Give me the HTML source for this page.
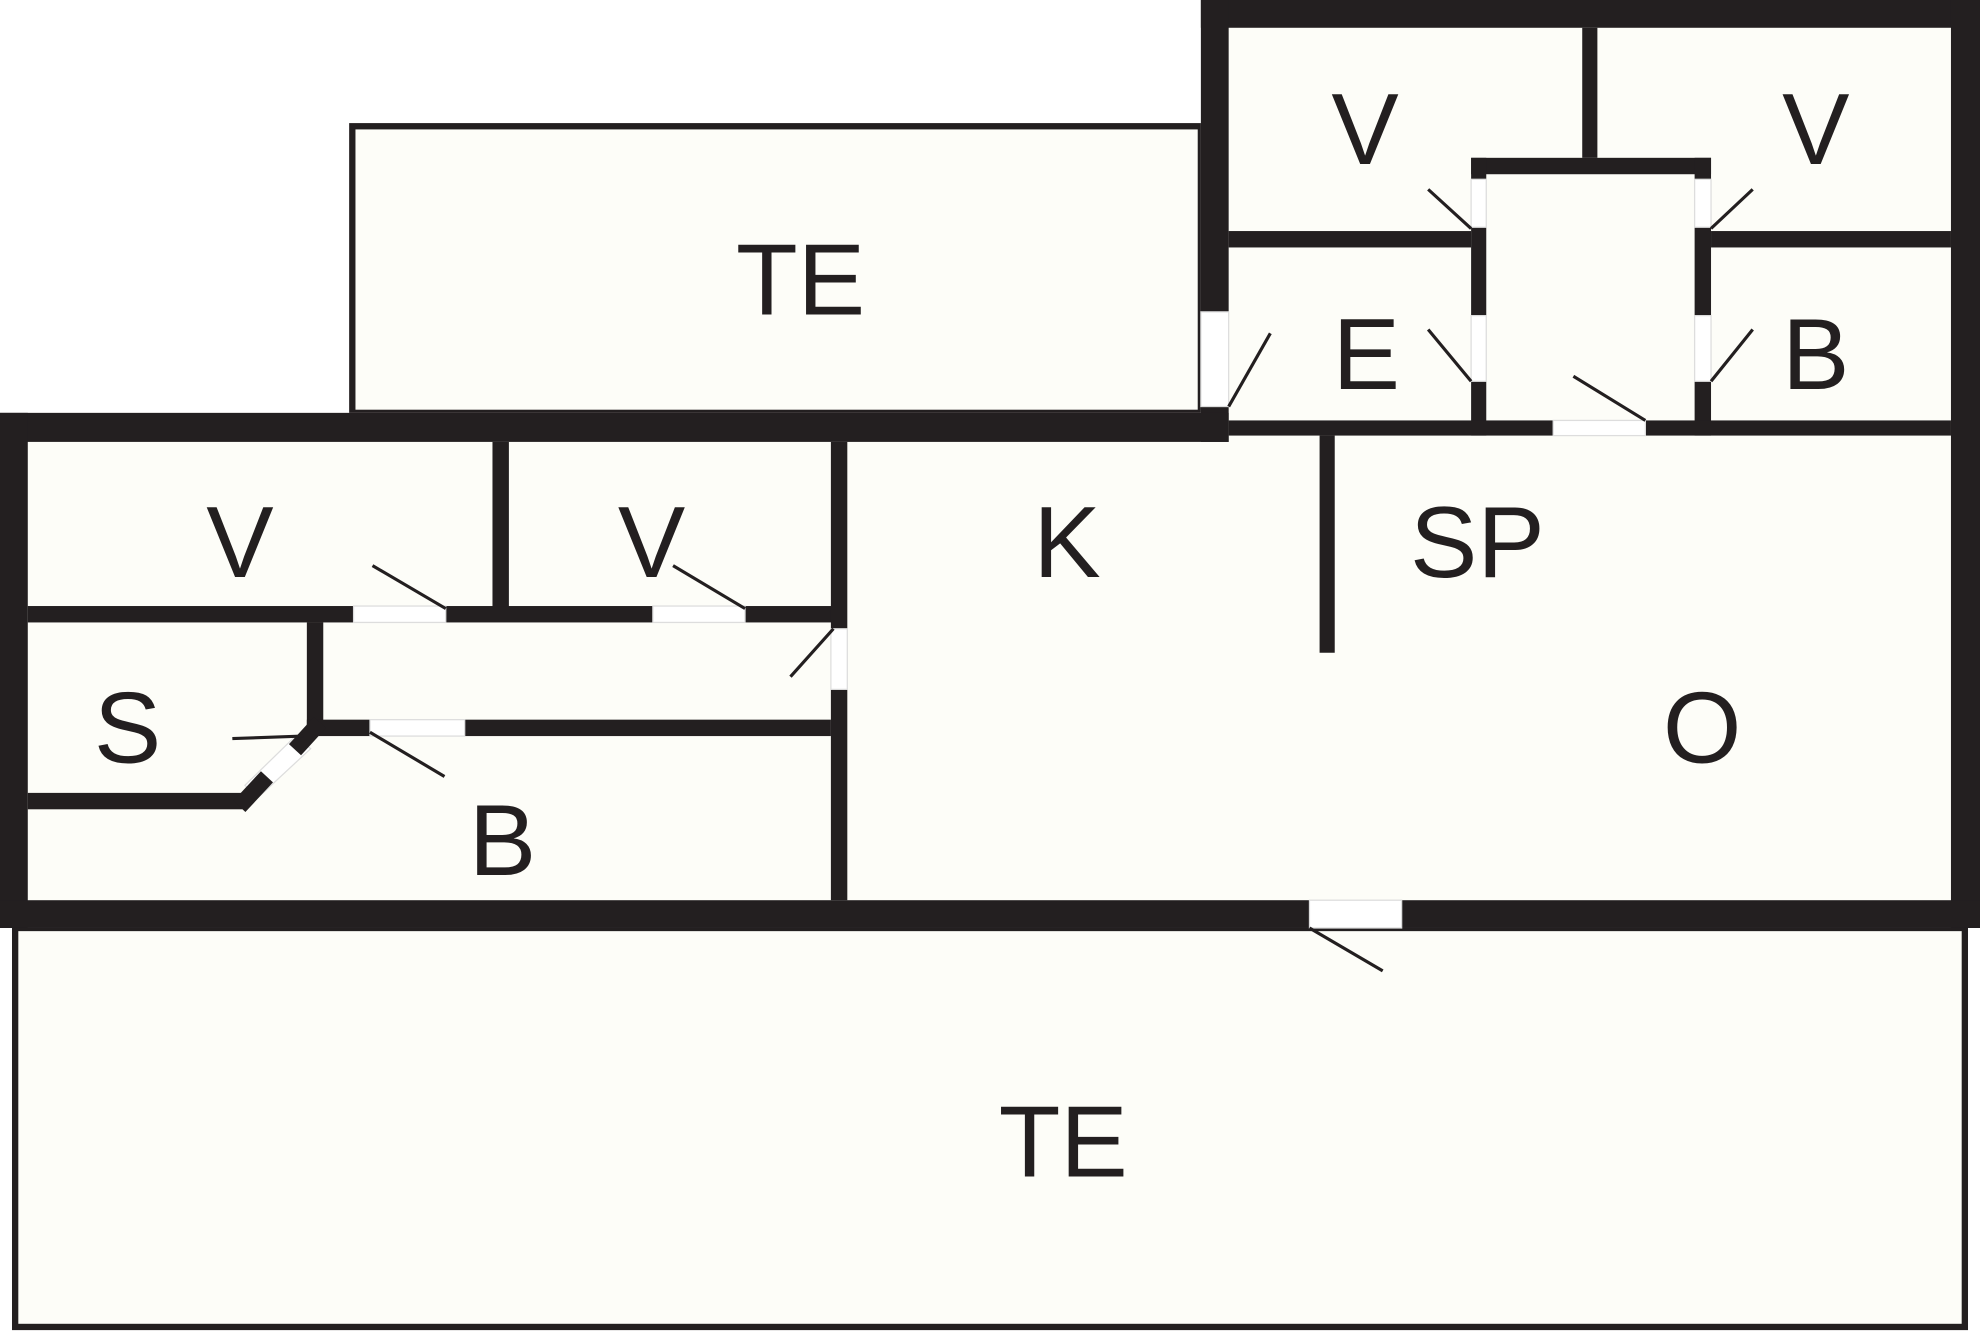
<!DOCTYPE html>
<html><head><meta charset="utf-8"><style>
html,body{margin:0;padding:0;background:#fff;}
svg{display:block;}
text{font-family:"Liberation Sans",sans-serif;font-size:80px;fill:#231f20;text-anchor:middle;}
</style></head><body>
<svg width="1980" height="1332" viewBox="0 0 1568 1055" preserveAspectRatio="none" xmlns="http://www.w3.org/2000/svg">
<rect width="1568" height="1055" fill="#fff"/>
<!-- floors -->
<rect x="279" y="100" width="672" height="227" fill="#fdfdf8" stroke="#231f20" stroke-width="5"/>
<rect x="12" y="735" width="1544" height="316" fill="#fdfdf8" stroke="#231f20" stroke-width="5"/>
<rect x="0" y="327" width="973" height="408" fill="#fdfdf8"/>
<rect x="951" y="0" width="617" height="735" fill="#fdfdf8"/>
<g fill="#231f20">
<!-- outer walls -->
<rect x="951" y="0" width="617" height="22"/>
<rect x="1545" y="0" width="23" height="735"/>
<rect x="951" y="0" width="22" height="247"/>
<rect x="951" y="322" width="22" height="28"/>
<rect x="0" y="327" width="973" height="23"/>
<rect x="0" y="327" width="22" height="408"/>
<rect x="0" y="713" width="1037" height="22"/>
<rect x="1110" y="713" width="458" height="22"/>
<!-- right block interior -->
<rect x="973" y="183" width="192" height="13"/>
<rect x="1355" y="183" width="190" height="13"/>
<rect x="1253" y="22" width="12" height="103"/>
<rect x="1165" y="125" width="190" height="13"/>
<rect x="1165" y="125" width="12" height="17"/>
<rect x="1165" y="180" width="12" height="70"/>
<rect x="1165" y="302" width="12" height="43"/>
<rect x="1342" y="125" width="13" height="17"/>
<rect x="1342" y="180" width="13" height="70"/>
<rect x="1342" y="302" width="13" height="43"/>
<rect x="973" y="333" width="257" height="12"/>
<rect x="1303" y="333" width="242" height="12"/>
<rect x="1045" y="345" width="12" height="172"/>
<!-- left block interior -->
<rect x="390" y="350" width="13" height="137"/>
<rect x="22" y="480" width="258" height="13"/>
<rect x="353" y="480" width="164" height="13"/>
<rect x="590" y="480" width="75" height="13"/>
<rect x="658" y="350" width="13" height="148"/>
<rect x="658" y="546" width="13" height="167"/>
<rect x="243" y="493" width="13" height="84"/>
<rect x="243" y="570" width="50" height="13"/>
<rect x="368" y="570" width="290" height="13"/>
<rect x="22" y="628" width="170" height="13"/>
</g>
<!-- openings -->
<g fill="#fff" stroke="#ddd" stroke-width="1">
<rect x="951" y="247" width="22" height="75"/>
<rect x="1037" y="713" width="73" height="22"/>
<rect x="1165" y="142" width="12" height="38"/>
<rect x="1165" y="250" width="12" height="52"/>
<rect x="1342" y="142" width="13" height="38"/>
<rect x="1342" y="250" width="13" height="52"/>
<rect x="1230" y="333" width="73" height="12"/>
<rect x="280" y="480" width="73" height="13"/>
<rect x="517" y="480" width="73" height="13"/>
<rect x="658" y="498" width="13" height="48"/>
<rect x="293" y="570" width="75" height="13"/>
<polygon points="234,583 246,593 204,632 194,622"/>
</g>
<path d="M249 577 L238 589 M207 620 L194 634" stroke="#231f20" stroke-width="13" fill="none" stroke-linecap="square"/>
<!-- door swings -->
<g stroke="#231f20" stroke-width="2.5" fill="none">
<line x1="1131" y1="150" x2="1165" y2="181"/>
<line x1="1388" y1="150" x2="1355" y2="181"/>
<line x1="1131" y1="261" x2="1165" y2="302"/>
<line x1="1388" y1="261" x2="1355" y2="302"/>
<line x1="1006" y1="264" x2="973" y2="322"/>
<line x1="1246" y1="298" x2="1303" y2="333"/>
<line x1="295" y1="448" x2="353" y2="482"/>
<line x1="533" y1="448" x2="590" y2="482"/>
<line x1="626" y1="536" x2="660" y2="498"/>
<line x1="293" y1="580" x2="352" y2="615"/>
<line x1="184" y1="585" x2="240" y2="583"/>
<line x1="1037" y1="735" x2="1095" y2="769"/>
</g>
<text x="1081" y="130">V</text>
<text x="1438" y="130">V</text>
<text x="634" y="249">TE</text>
<text x="1082" y="308">E</text>
<text x="1438" y="308">B</text>
<text x="190" y="457">V</text>
<text x="516" y="457">V</text>
<text x="845" y="457">K</text>
<text x="1170" y="457">SP</text>
<text x="101" y="604">S</text>
<text x="1348" y="604">O</text>
<text x="398" y="693">B</text>
<text x="842" y="932">TE</text>
</svg>
</body></html>
